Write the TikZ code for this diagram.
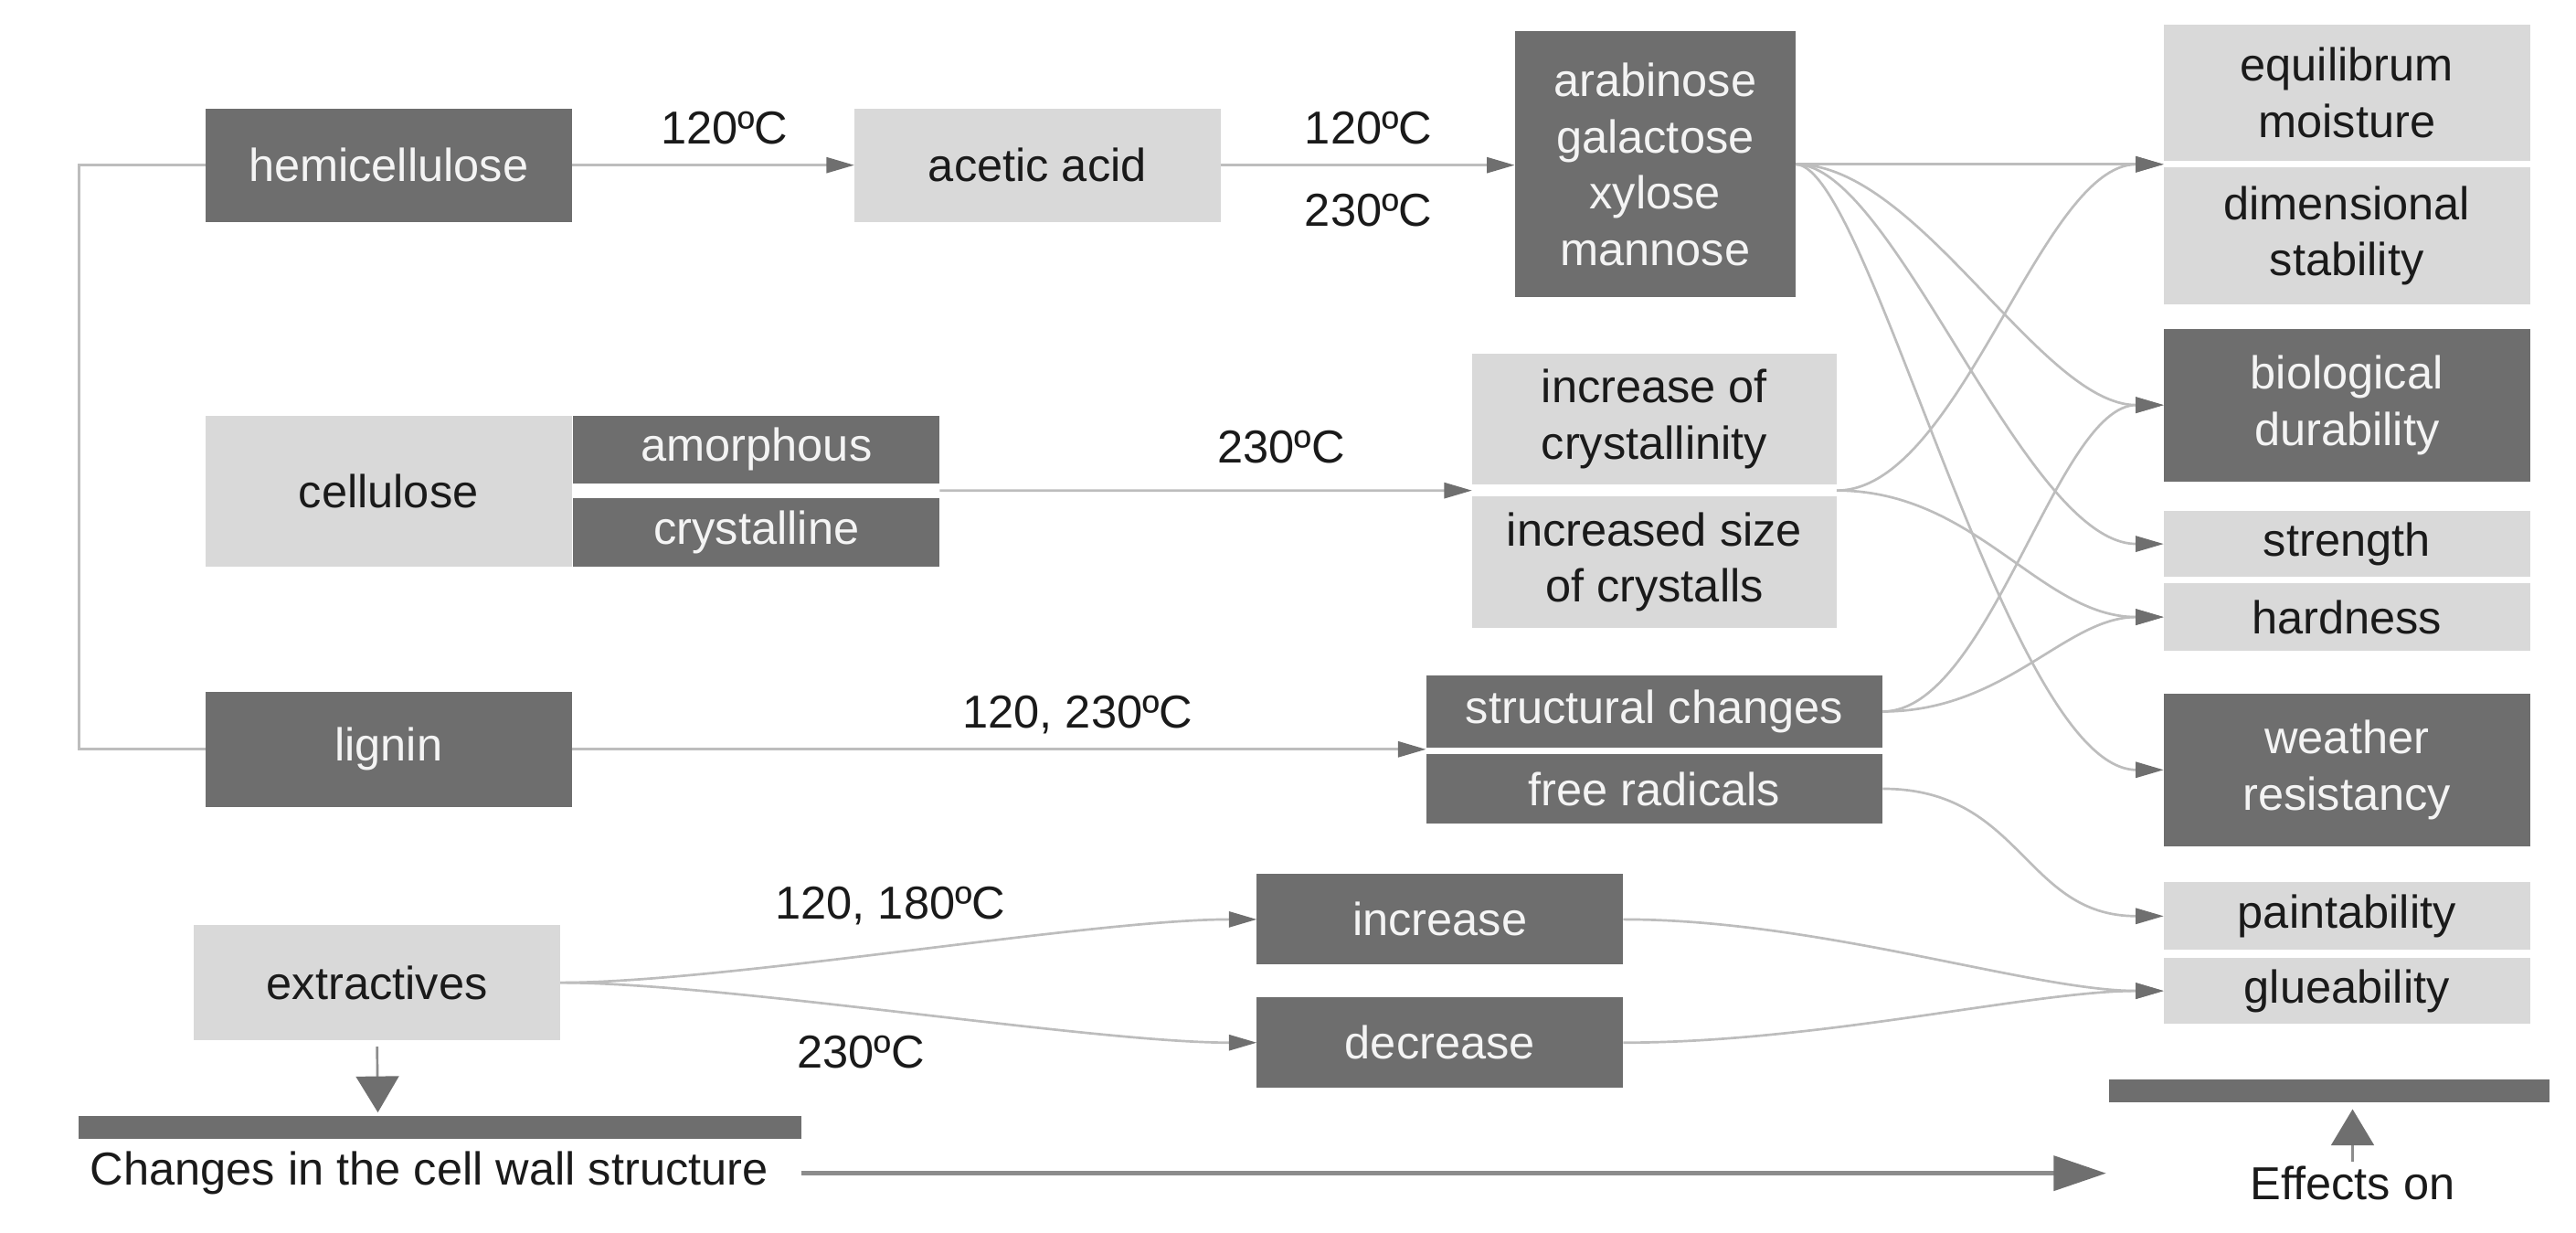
\documentclass[tikz,border=0pt]{standalone}
\usepackage{fontspec}
\setmainfont{Liberation Sans}
\usetikzlibrary{arrows.meta,calc}
\definecolor{dk}{HTML}{6E6E6E}
\definecolor{lt}{HTML}{D9D9D9}
\definecolor{ln}{HTML}{BDBDBD}
\definecolor{hd}{HTML}{6F6F6F}
\definecolor{tx}{HTML}{1A1A1A}
\definecolor{wt}{HTML}{F4F4F4}
\definecolor{mg}{HTML}{8C8C8C}
\newcommand\bx[7]{\node[#2, minimum width={(#5-#3)*0.2mm}, minimum height={(#6-#4)*0.2mm}] (#1) at ({(#3+#5)/2},{(#4+#6)/2}) {#7};}
\begin{document}
\begin{tikzpicture}[x=0.2mm,y=-0.2mm,
  every node/.style={font=\fontsize{16}{19.5}\selectfont, inner sep=0pt, outer sep=0pt, align=center},
  dbox/.style={fill=dk, text=wt},
  lbox/.style={fill=lt, text=tx},
  lbl/.style={text=tx},
  plain/.style={draw=ln, line width=0.85pt},
  conn/.style={draw=ln, line width=0.85pt, -{Triangle[length=3.4mm,width=1.9mm,color=hd]}},
  bigdown/.style={draw=mg, line width=0.85pt, -{Triangle[length=4.4mm,width=5.2mm,color=hd]}},
  longarr/.style={draw=mg, line width=1.5pt, -{Triangle[length=6.4mm,width=4.2mm,color=hd]}}
]
\useasboundingbox (0,0) rectangle (1568,750);

% boxes
\bx{hemi}{dbox}{125}{66}{348}{135}{hemicellulose}
\bx{acet}{lbox}{520}{66}{743}{135}{acetic acid}
\bx{arab}{dbox}{922}{19}{1093}{181}{arabinose\\galactose\\xylose\\mannose}
\bx{cell}{lbox}{125}{253}{348}{345}{cellulose}
\bx{amor}{dbox}{349}{253}{572}{294}{amorphous}
\bx{crys}{dbox}{349}{303}{572}{345}{crystalline}
\bx{incc}{lbox}{896}{215}{1118}{295}{increase of\\crystallinity}
\bx{incs}{lbox}{896}{302}{1118}{382}{increased size\\of crystalls}
\bx{lign}{dbox}{125}{421}{348}{491}{lignin}
\bx{stru}{dbox}{868}{411}{1146}{455}{structural changes}
\bx{free}{dbox}{868}{459}{1146}{501}{free radicals}
\bx{extr}{lbox}{118}{563}{341}{633}{extractives}
\bx{incr}{dbox}{765}{532}{988}{587}{increase}
\bx{decr}{dbox}{765}{607}{988}{662}{decrease}
\bx{moist}{lbox}{1317}{15}{1540}{98}{equilibrum\\moisture}
\bx{dim}{lbox}{1317}{102}{1540}{185}{dimensional\\stability}
\bx{bio}{dbox}{1317}{200}{1540}{293}{biological\\durability}
\bx{stren}{lbox}{1317}{311}{1540}{351}{strength}
\bx{hard}{lbox}{1317}{355}{1540}{396}{hardness}
\bx{weat}{dbox}{1317}{422}{1540}{515}{weather\\resistancy}
\bx{paint}{lbox}{1317}{537}{1540}{578}{paintability}
\bx{glue}{lbox}{1317}{583}{1540}{623}{glueability}
\bx{lbar}{dbox}{48}{679}{488}{693}{}
\bx{rbar}{dbox}{1284}{657}{1552}{671}{}

% texts
\node[lbl, anchor=west] (chg) at (55,714) {Changes in the cell wall structure};
\node[lbl] (eff) at (1432,720) {Effects on};
\node[lbl] (t1) at (441,78) {120ºC};
\node[lbl] (t2) at (833,78) {120ºC};
\node[lbl] (t3) at (833,128) {230ºC};
\node[lbl] (t4) at (780,272) {230ºC};
\node[lbl] (t5) at (656,435) {120, 230ºC};
\node[lbl] (t6) at (542,551) {120, 180ºC};
\node[lbl] (t7) at (524,640) {230ºC};

% junction coordinates
\coordinate (mdj) at ($(moist.south west)!.5!(dim.north west)$);
\coordinate (cj) at ($(incc.south east)!.5!(incs.north east)$);
\coordinate (cjl) at ($(incc.south west)!.5!(incs.north west)$);
\coordinate (acj) at ($(amor.south east)!.5!(crys.north east)$);
\coordinate (sfj) at ($(stru.south west)!.5!(free.north west)$);
\coordinate (extip) at (230,677);
\coordinate (efftip) at (1432,675);
\coordinate (longtip) at (1282,716);

% left bracket
\draw[plain] (hemi.west) -- ++(-77,0) |- (lign.west);

% straight connectors
\draw[conn] (hemi.east) -- (acet.west);
\draw[conn] (acet.east) -- (acet.east -| arab.west);
\draw[conn] (acj) -- (cjl);
\draw[conn] (lign.east) -- (lign.east -| sfj);
\draw[conn] (arab.east) -- (arab.east -| mdj);

% curved connectors
\draw[conn] (arab.east) .. controls +(75,0) and +(-75,0) .. (bio.west);
\draw[conn] (arab.east) .. controls +(60,0) and +(-85,0) .. (stren.west);
\draw[conn] (arab.east) .. controls +(45,0) and +(-95,0) .. (weat.west);
\draw[conn] (cj) .. controls +(75,0) and +(-75,0) .. (mdj);
\draw[conn] (cj) .. controls +(85,0) and +(-75,0) .. (hard.west);
\draw[conn] (stru.east) .. controls +(65,0) and +(-65,0) .. (bio.west);
\draw[conn] (stru.east) .. controls +(75,0) and +(-60,0) .. (hard.west);
\draw[conn] (free.east) .. controls +(85,0) and +(-85,0) .. (paint.west);
\draw[conn] (incr.east) .. controls +(120,0) and +(-80,0) .. (glue.west);
\draw[conn] (decr.east) .. controls +(120,0) and +(-80,0) .. (glue.west);
\draw[conn] (extr.east) .. controls +(100,0) and +(-100,0) .. (incr.west);
\draw[conn] (extr.east) .. controls +(100,0) and +(-100,0) .. (decr.west);

% bottom arrows
\draw[bigdown, shorten <=0.8mm] (extr.south) -- (extip);
\draw[bigdown, shorten <=0.6mm] (eff.north) -- (efftip);
\draw[longarr, shorten <=4mm] (chg.east) -- (chg.east -| longtip);
\end{tikzpicture}
\end{document}
